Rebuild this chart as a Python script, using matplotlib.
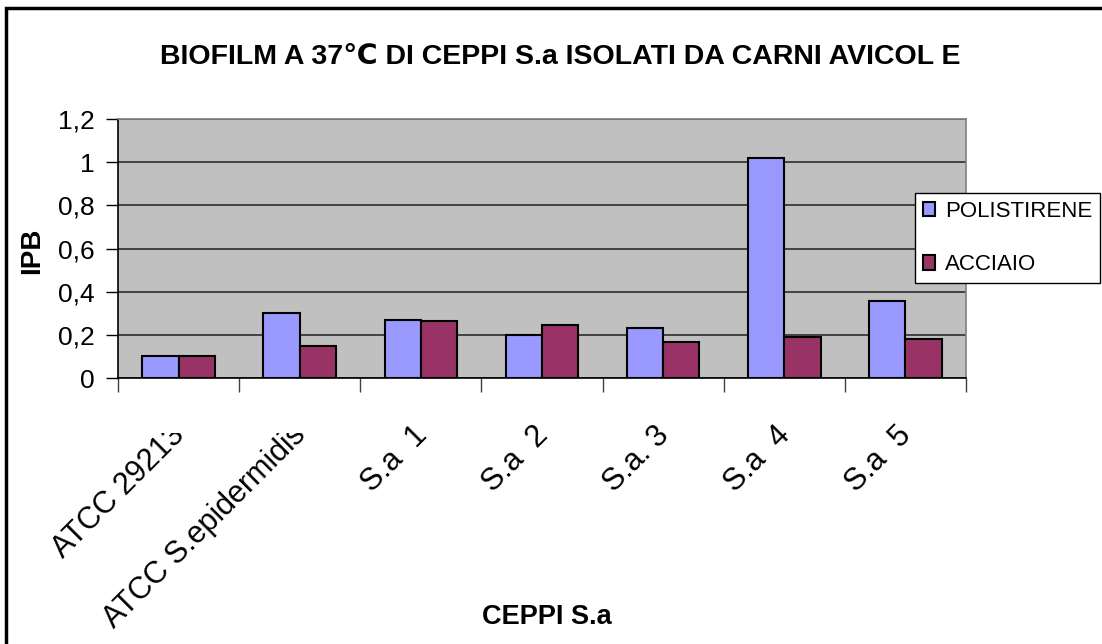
import numpy as np
import matplotlib
matplotlib.use('Agg')
import matplotlib.pyplot as plt
from matplotlib.patches import Rectangle
from matplotlib.transforms import ScaledTranslation, Bbox, blended_transform_factory

ceppi = ['ATCC 29213', 'ATCC S.epidermidis', 'S.a  1', 'S.a  2', 'S.a. 3', 'S.a  4', 'S.a  5']
polistirene = [0.10, 0.30, 0.27, 0.20, 0.23, 1.02, 0.355]
acciaio = [0.10, 0.15, 0.265, 0.245, 0.165, 0.19, 0.18]

plt.rcParams['font.family'] = ['Liberation Sans', 'DejaVu Sans']

W, H = 1102, 644
fig = plt.figure(figsize=(W/100, H/100), dpi=100)
ax = fig.add_axes([118/W, 1-378/H, 848/W, 259/H])
ax.set_facecolor('#C0C0C0')

x = np.arange(len(ceppi))
w = 0.3
ax.bar(x - w/2, polistirene, w, color='#9999FF', edgecolor='black', linewidth=1.5, label='POLISTIRENE', zorder=3)
ax.bar(x + w/2, acciaio, w, color='#993366', edgecolor='black', linewidth=1.5, label='ACCIAIO', zorder=3)

ax.set_xlim(-0.5, len(ceppi) - 0.5)
ax.set_ylim(0, 1.2)
ax.set_yticks(np.arange(0, 1.21, 0.2))
ax.set_yticklabels(['0', '0,2', '0,4', '0,6', '0,8', '1', '1,2'], fontsize=19)
ax.yaxis.grid(True, color='#202020', linewidth=1.1, zorder=1)
ax.set_axisbelow(True)

# ticks at the category boundaries, labels written by hand below
ax.set_xticks(np.append(x - 0.5, len(ceppi) - 0.5))
ax.set_xticklabels([])
ax.tick_params(axis='x', length=10, width=1, color='#404040', direction='out')
ax.tick_params(axis='y', length=9, width=1, direction='out', pad=8)

trans = blended_transform_factory(ax.transData, ax.transAxes) + \
    ScaledTranslation(-9/100, -42/100, fig.dpi_scale_trans)
clip = Bbox([[0, 0], [W, H - 433]])
for xi, name in zip(x, ceppi):
    t = ax.text(xi, 0, name, transform=trans, rotation=45, rotation_mode='anchor',
                ha='right', va='top', fontsize=22, clip_on=False)
    if len(name) > 7:
        t.set_clip_on(True)
        t.set_clip_box(clip)

for s in ['top', 'right']:
    ax.spines[s].set_color('#808080')
for s in ['left', 'bottom']:
    ax.spines[s].set_color('black')
for s in ax.spines.values():
    s.set_linewidth(1.2)

fig.text(560/W, 1-57/H, 'BIOFILM A 37℃ DI CEPPI S.a ISOLATI DA CARNI AVICOL E',
         fontsize=20.5, fontweight='bold', ha='center', va='center')
fig.text(32/W, 1-251/H, 'IPB', fontsize=20, fontweight='bold',
         rotation=90, ha='center', va='center')
fig.text(547/W, 1-617/H, 'CEPPI S.a', fontsize=19.5, fontweight='bold',
         ha='center', va='center')

leg = fig.legend(loc='upper left', bbox_to_anchor=(915/W, 1-193/H),
                 bbox_transform=fig.transFigure, borderaxespad=0, fancybox=False,
                 edgecolor='black', framealpha=1, prop={'size': 16},
                 handlelength=0.55, handleheight=0.65, handletextpad=0.45,
                 labelspacing=1.45, borderpad=0.35)
leg.get_frame().set_linewidth(1)

fig.patches.append(Rectangle((6/W, -0.05), 1.2, 1.05 - 8/H, transform=fig.transFigure,
                             fill=False, edgecolor='black', linewidth=2.5))

fig.savefig('out.png', dpi=100)
